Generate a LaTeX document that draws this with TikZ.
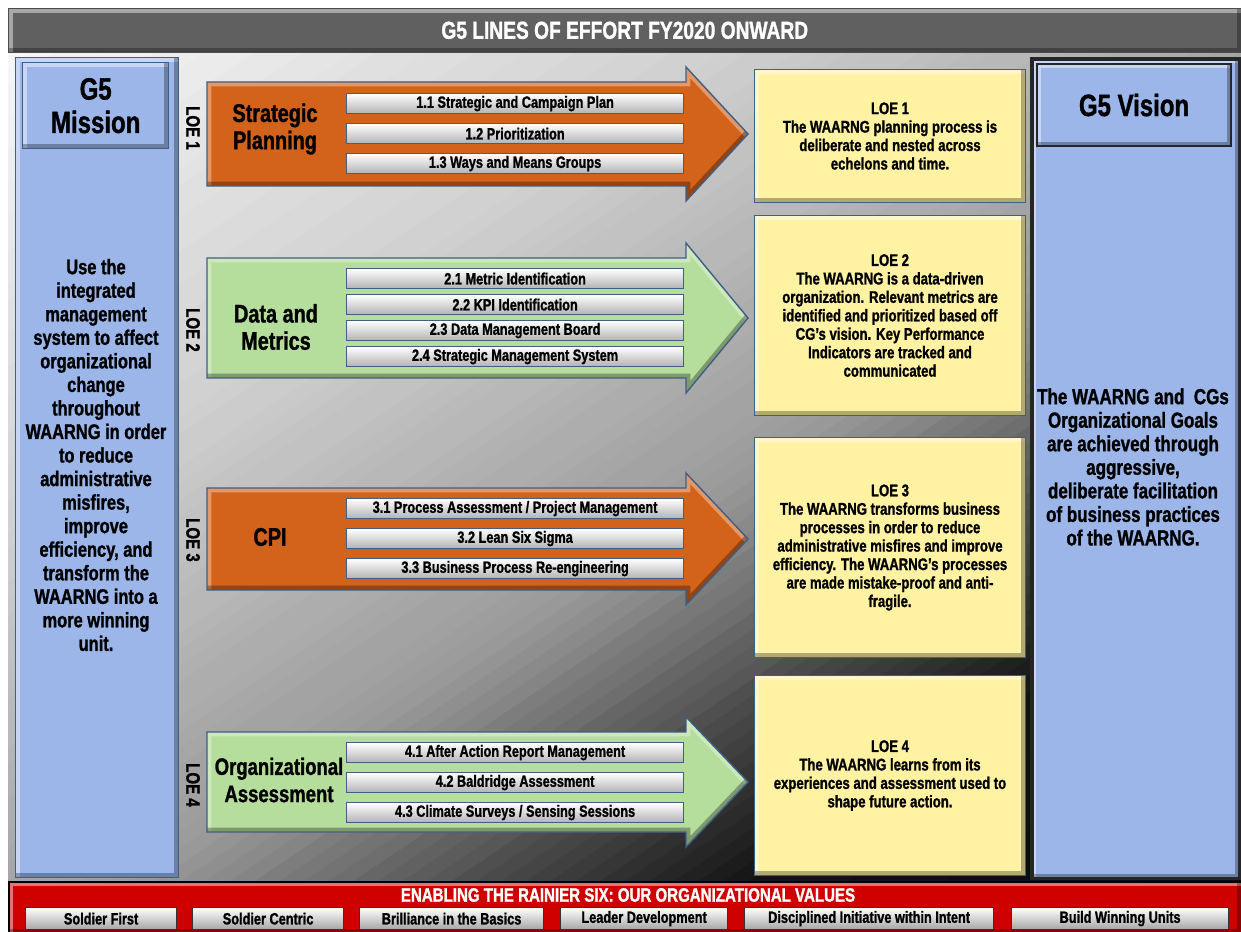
\documentclass[tikz,border=0pt]{standalone}
\usepackage{fontspec}
\setmainfont{Liberation Sans}[FakeStretch=0.78, BoldFeatures={FakeBold=1.2}]
\usetikzlibrary{calc}
\definecolor{loeorange}{HTML}{D3621A}
\definecolor{loegreen}{HTML}{B5DD9C}
\definecolor{colblue}{HTML}{9CB6EA}
\definecolor{goalyellow}{HTML}{FFF2A2}
\definecolor{barred}{HTML}{CF0000}
\definecolor{bargray}{HTML}{606060}
\definecolor{edgeblue}{HTML}{3E5F86}
\def\arrowpath(#1:#2){(207,#1) -- (686,#1) -- (686,#1-15) -- (748,{(#1+#2)/2}) -- (686,#2+15) -- (686,#2) -- (207,#2) -- cycle}
\def\loearrow[#1](#2:#3){
	\fill[#1] \arrowpath(#2:#3);
	\begin{scope}
		\clip \arrowpath(#2:#3);
		\draw[white, opacity=0.35, line width=5pt] (207,#3) -- (207,#2) -- (686,#2) -- (686,#2-15) -- (748,{(#2+#3)/2});
		\draw[black, opacity=0.3, line width=5pt] (748,{(#2+#3)/2}) -- (686,#3+15) -- (686,#3) -- (207,#3);
	\end{scope}
	\draw[draw=edgeblue, line width=0.8pt] \arrowpath(#2:#3);}
\tikzset{
	bevel/.style={path picture={
		\draw[white, opacity=0.45, line width=5pt] (path picture bounding box.south west) |- (path picture bounding box.north east);
		\draw[black, opacity=0.3, line width=5pt] (path picture bounding box.south west) -| (path picture bounding box.north east);}},
	colbox/.style={bevel, draw=edgeblue, line width=0.8pt, fill=colblue, anchor=north west, inner sep=0pt},
	goalbox/.style={bevel, draw=edgeblue, line width=0.6pt, fill=goalyellow, anchor=north west, minimum width=5.42cm, inner sep=0pt},
	subbox/.style={draw=edgeblue, line width=0.7pt, top color=white, bottom color=black!30, anchor=north west, minimum width=6.74cm, minimum height=0.4cm, inner sep=0pt, font=\bfseries\fontsize{9.3}{9.5}\selectfont},
	valbox/.style={draw=black!80, line width=0.7pt, top color=white, bottom color=black!35, anchor=north west, minimum height=0.44cm, inner sep=0pt, font=\bfseries\fontsize{9.3}{9.5}\selectfont},
	loelabel/.style={rotate=-90, font=\bfseries\fontsize{11}{11}\selectfont},
	loetitle/.style={align=center, font=\bfseries\fontsize{14.5}{15.5}\selectfont},
	goaltext/.style={align=center, font=\bfseries\fontsize{9.6}{10.5}\selectfont},
}

\begin{document}
\begin{tikzpicture}[x=0.02cm, y=-0.02cm]
		%%%%% START %%%%%
		
		\useasboundingbox (0,0) rectangle (1241,932);
		\fill[white] (0,0) rectangle (1241,932);
		
		% main panel, diagonal gradient in strips
		\begin{scope}
			\clip (8,52) rectangle (1241,881);
			\foreach \s in {0,0.02,...,2.02}{
				\pgfmathsetmacro\g{\s<0.6 ? 0.96-0.2667*\s : (\s<1.1 ? 0.8-0.4*(\s-0.6) : (\s<1.35 ? 0.6-1.12*(\s-1.1) : (\s<1.6 ? 0.32-1.0*(\s-1.35) : max(0.02,0.07-0.125*(\s-1.6)))))}
				\pgfmathtruncatemacro\p{100*(1-\g)}
				\fill[black!\p] ({8+1233*(\s+1)},-777) -- ({8+1233*(\s+1.025)},-777) -- ({8+1233*(\s-1.975)},1710) -- ({8+1233*(\s-2)},1710) -- cycle;
			}
		\end{scope}
		
		% title bar
		\node[bevel, fill=bargray, draw=black!70, anchor=north west, minimum width=24.66cm, minimum height=0.88cm, inner sep=0pt] (titlebar) at (8,8) {};
		\node[white, font=\bfseries\fontsize{14}{14}\selectfont] (title) at (titlebar.center) {G5 LINES OF EFFORT FY2020 ONWARD};
		
		% mission column
		\node[colbox, minimum width=3.26cm, minimum height=16.4cm] (mission) at (15,57) {};
		\node[colbox, minimum width=2.92cm, minimum height=1.72cm, font=\bfseries\fontsize{17.5}{19}\selectfont, align=center] (missionhead) at (22,62) {G5\\Mission};
		\node[align=center, font=\bfseries\fontsize{12}{13.4}\selectfont] (missiontext) at (96,455) {Use the\\integrated\\management\\system to affect\\organizational\\change\\throughout\\WAARNG in order\\to reduce\\administrative\\misfires,\\improve\\efficiency, and\\transform the\\WAARNG into a\\more winning\\unit.};
		
		% vision column
		\node[colbox, draw=black!85, line width=2pt, minimum width=4.16cm, minimum height=16.4cm] (vision) at (1030,57) {};
		\node[colbox, draw=black!85, line width=1.2pt, minimum width=3.88cm, minimum height=1.64cm, font=\bfseries\fontsize{17.5}{19}\selectfont] (visionhead) at (1036,63) {G5 Vision};
		\node[align=center, font=\bfseries\fontsize{12.4}{13.4}\selectfont] (visiontext) at (1133,467) {The WAARNG and\ \ CGs\\Organizational Goals\\are achieved through\\aggressive,\\deliberate facilitation\\of business practices\\of the WAARNG.};
		
		% LOE 1
		\loearrow[loeorange](82:186)
		\node[loelabel] (loe1) at (193,128) {LOE 1};
		\node[loetitle] (sp) at (275,129) {Strategic\\Planning};
		\node[subbox] (s11) at (346,93) {1.1 Strategic and Campaign Plan};
		\node[subbox] (s12) at (346,123) {1.2 Prioritization};
		\node[subbox] (s13) at (346,153) {1.3 Ways and Means Groups};
		
		% LOE 2
		\loearrow[loegreen](258:378)
		\node[loelabel] (loe2) at (193,330) {LOE 2};
		\node[loetitle] (dm) at (276,327) {Data and\\Metrics};
		\node[subbox] (s21) at (346,268) {2.1 Metric Identification};
		\node[subbox] (s22) at (346,294) {2.2 KPI Identification};
		\node[subbox] (s23) at (346,320) {2.3 Data Management Board};
		\node[subbox] (s24) at (346,346) {2.4 Strategic Management System};
		
		% LOE 3
		\loearrow[loeorange](488:590)
		\node[loelabel] (loe3) at (193,540) {LOE 3};
		\node[loetitle] (cpi) at (270,537) {CPI};
		\node[subbox] (s31) at (346,498) {3.1 Process Assessment / Project Management};
		\node[subbox] (s32) at (346,528) {3.2 Lean Six Sigma};
		\node[subbox] (s33) at (346,558) {3.3 Business Process Re-engineering};
		
		% LOE 4
		\loearrow[loegreen](732:832)
		\node[loelabel] (loe4) at (193,785) {LOE 4};
		\node[loetitle, font=\bfseries\fontsize{13.5}{15.5}\selectfont] (oa) at (279,780) {Organizational\\Assessment};
		\node[subbox] (s41) at (346,742) {4.1 After Action Report Management};
		\node[subbox] (s42) at (346,772) {4.2 Baldridge Assessment};
		\node[subbox] (s43) at (346,802) {4.3 Climate Surveys / Sensing Sessions};
		
		% end states
		\node[goalbox, minimum height=2.66cm] (goal1) at (754,69) {};
		\node[goaltext] (goaltext1) at (goal1.center) {LOE 1\\The WAARNG planning process is\\deliberate and nested across\\echelons and time.};
		\node[goalbox, minimum height=4cm] (goal2) at (754,215) {};
		\node[goaltext] (goaltext2) at (goal2.center) {LOE 2\\The WAARNG is a data-driven\\organization. Relevant metrics are\\identified and prioritized based off\\CG's vision. Key Performance\\Indicators are tracked and\\communicated};
		\node[goalbox, minimum height=4.4cm] (goal3) at (754,437) {};
		\node[goaltext] (goaltext3) at (goal3.center) {LOE 3\\The WAARNG transforms business\\processes in order to reduce\\administrative misfires and improve\\efficiency. The WAARNG's processes\\are made mistake-proof and anti-\\fragile.};
		\node[goalbox, minimum height=4cm] (goal4) at (754,675) {};
		\node[goaltext] (goaltext4) at (goal4.center) {LOE 4\\The WAARNG learns from its\\experiences and assessment used to\\shape future action.};
		
		% values bar
		\node[bevel, fill=barred, draw=black, line width=1.2pt, anchor=north west, minimum width=24.66cm, minimum height=1.02cm, inner sep=0pt] (valuebar) at (8,881) {};
		\node[white, font=\bfseries\fontsize{11}{11}\selectfont] (valuetitle) at (628,895) {ENABLING THE RAINIER SIX: OUR ORGANIZATIONAL VALUES};
		\node[valbox, minimum width=3.02cm] (v1) at (25,907) {Soldier First};
		\node[valbox, minimum width=3.02cm] (v2) at (192,907) {Soldier Centric};
		\node[valbox, minimum width=3.68cm] (v3) at (359,907) {Brilliance in the Basics};
		\node[valbox, minimum width=3.34cm] (v4) at (560,907) {Leader Development};
		\node[valbox, minimum width=4.98cm] (v5) at (744,907) {Disciplined Initiative within Intent};
		\node[valbox, minimum width=4.34cm] (v6) at (1011,907) {Build Winning Units};
		
		%%%%% END %%%%%
	\end{tikzpicture}
\end{document}
